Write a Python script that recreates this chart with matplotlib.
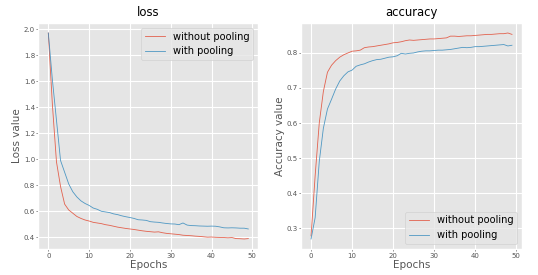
import matplotlib
matplotlib.use('Agg')
import matplotlib.pyplot as plt

# Data
epochs = list(range(50))
loss_without = [1.97, 1.42, 0.98, 0.79, 0.655, 0.61, 0.585, 0.56, 0.545, 0.533,
                0.525, 0.515, 0.51, 0.505, 0.497, 0.492, 0.485, 0.478, 0.473, 0.468,
                0.464, 0.46, 0.455, 0.45, 0.446, 0.443, 0.44, 0.442, 0.435, 0.43,
                0.427, 0.424, 0.421, 0.416, 0.414, 0.412, 0.409, 0.407, 0.404, 0.401,
                0.402, 0.40, 0.399, 0.398, 0.396, 0.398, 0.39, 0.389, 0.387, 0.39]
loss_with = [1.97, 1.61, 1.30, 0.99, 0.90, 0.81, 0.75, 0.71, 0.68, 0.66,
             0.645, 0.625, 0.615, 0.60, 0.595, 0.59, 0.58, 0.574, 0.565, 0.558,
             0.552, 0.545, 0.535, 0.533, 0.53, 0.52, 0.517, 0.515, 0.51, 0.506,
             0.503, 0.502, 0.497, 0.51, 0.494, 0.49, 0.489, 0.487, 0.486, 0.485,
             0.486, 0.485, 0.48, 0.473, 0.472, 0.473, 0.472, 0.47, 0.47, 0.464]
acc_without = [0.278, 0.45, 0.60, 0.69, 0.745, 0.765, 0.778, 0.788, 0.795, 0.80,
               0.805, 0.806, 0.808, 0.815, 0.817, 0.818, 0.82, 0.822, 0.824, 0.826,
               0.829, 0.83, 0.832, 0.835, 0.837, 0.836, 0.837, 0.838, 0.839, 0.84,
               0.84, 0.841, 0.842, 0.843, 0.848, 0.848, 0.847, 0.848, 0.849, 0.849,
               0.85, 0.851, 0.852, 0.853, 0.853, 0.854, 0.855, 0.855, 0.857, 0.853]
acc_with = [0.269, 0.33, 0.49, 0.585, 0.64, 0.668, 0.697, 0.72, 0.735, 0.746,
            0.751, 0.762, 0.766, 0.769, 0.774, 0.778, 0.781, 0.782, 0.785, 0.788,
            0.789, 0.792, 0.799, 0.797, 0.799, 0.80, 0.803, 0.805, 0.806, 0.806,
            0.807, 0.808, 0.808, 0.809, 0.81, 0.812, 0.814, 0.816, 0.815, 0.816,
            0.818, 0.818, 0.819, 0.82, 0.821, 0.822, 0.823, 0.824, 0.82, 0.822]

plt.style.use('ggplot')

fig = plt.figure(figsize=(5.38, 2.75), dpi=100)
ax1 = fig.add_axes([0.0712, 0.0935, 0.4089, 0.8240])
ax2 = fig.add_axes([0.5595, 0.0935, 0.4108, 0.8240])

panels = [
    (ax1, loss_without, loss_with, 'loss', 'Loss value', 'upper right'),
    (ax2, acc_without, acc_with, 'accuracy', 'Accuracy value', 'lower right'),
]

for ax, s1, s2, title, ylabel, loc in panels:
    ax.plot(epochs, s1, linewidth=0.6, alpha=0.85, label='without pooling')
    ax.plot(epochs, s2, linewidth=0.6, alpha=0.85, label='with pooling')
    ax.set_title(title, fontsize=8.4, pad=5)
    ax.set_xlabel('Epochs', fontsize=7.5, labelpad=1)
    ax.set_ylabel(ylabel, fontsize=7.5, labelpad=1)
    ax.tick_params(labelsize=5, length=1.2, pad=1.2, width=0.5)
    ax.grid(True, color='white', linewidth=0.8)
    ax.set_xticks([0, 10, 20, 30, 40, 50])
    ax.legend(loc=loc, fontsize=7.1)

ax1.set_yticks([0.4, 0.6, 0.8, 1.0, 1.2, 1.4, 1.6, 1.8, 2.0])
ax2.set_yticks([0.3, 0.4, 0.5, 0.6, 0.7, 0.8])

fig.savefig('out.png', dpi=100)
